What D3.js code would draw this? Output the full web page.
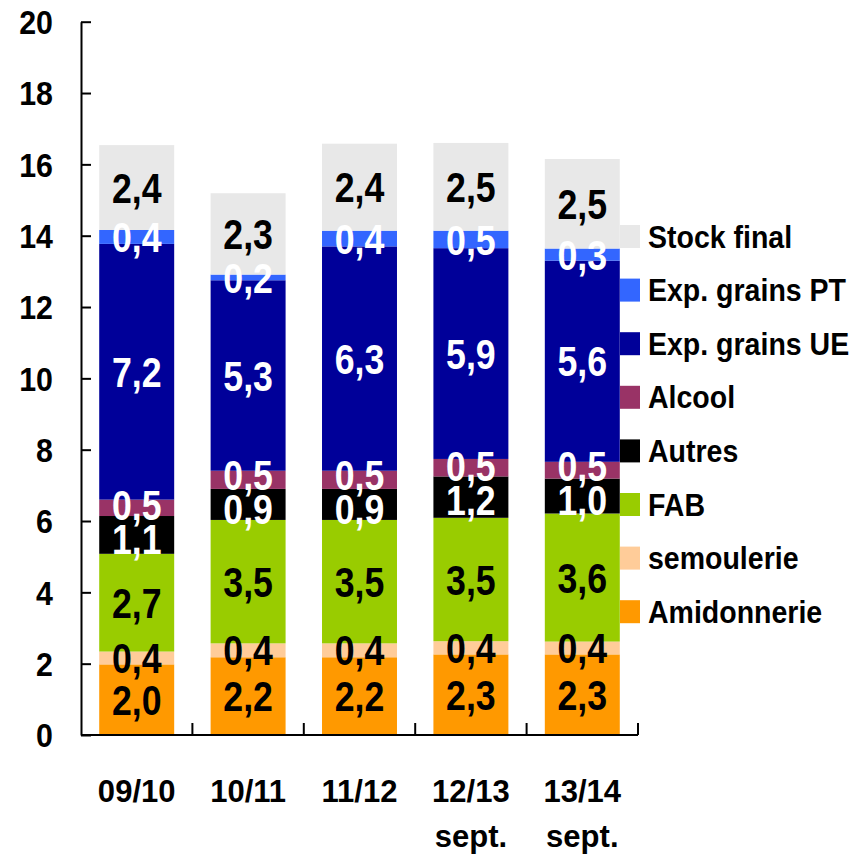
<!DOCTYPE html>
<html>
<head>
<meta charset="utf-8">
<script src="https://cdn.jsdelivr.net/npm/d3@7"></script>
<style>
  html, body { margin: 0; padding: 0; background: #fff; }
  svg text { font-family: "Liberation Sans", Arial, sans-serif; font-weight: bold; }
</style>
</head>
<body>
<svg id="chart" width="865" height="861"></svg>
<script>
// ---- data ----
const categories = ["09/10", "10/11", "11/12", "12/13", "13/14"];
const categorySubLabels = ["", "", "", "sept.", "sept."];
const yTicks = [0, 2, 4, 6, 8, 10, 12, 14, 16, 18, 20];

const seriesNames = ["Amidonnerie", "semoulerie", "FAB", "Autres", "Alcool",
                     "Exp. grains UE", "Exp. grains PT", "Stock final"];
const amidonnerie  = [1.98, 2.18, 2.18, 2.26, 2.26];
const semoulerie   = [0.36, 0.39, 0.39, 0.37, 0.36];
const fab          = [2.74, 3.46, 3.46, 3.46, 3.59];
const autres       = [1.06, 0.87, 0.87, 1.16, 0.98];
const alcool       = [0.46, 0.51, 0.51, 0.49, 0.47];
const expGrainsUE  = [7.17, 5.34, 6.29, 5.91, 5.64];
const expGrainsPT  = [0.39, 0.16, 0.44, 0.49, 0.34];
const stockFinal   = [2.38, 2.28, 2.44, 2.46, 2.51];

const seriesColors = ["#FF9900", "#FFCC99", "#99CC00", "#000000", "#993366",
                      "#000099", "#3366FF", "#E8E8E8"];
const labelColors  = ["#000", "#000", "#000", "#fff", "#fff", "#fff", "#fff", "#000"];

// ---- build table ----
const seriesValues = [amidonnerie, semoulerie, fab, autres, alcool, expGrainsUE, expGrainsPT, stockFinal];
const table = categories.map((c, i) => {
  const row = { cat: c };
  seriesNames.forEach((s, j) => row[s] = seriesValues[j][i]);
  return row;
});
const stacked = d3.stack().keys(seriesNames)(table);

// ---- layout ----
const svg = d3.select("#chart");
const xLeft = 81, xRight = 638, yBottom = 735, yTop = 21.7;
const SX = 0.85; // horizontal text compression for value labels

const x = d3.scaleBand().domain(categories).range([xLeft, xRight])
  .paddingInner(0.327).paddingOuter(0.1635);
const y = d3.scaleLinear().domain([0, 20]).range([yBottom, yTop]);

const fmt = v => (Math.round(v * 10) / 10).toFixed(1).replace(".", ",");

// bars
const layers = svg.append("g").selectAll("g").data(stacked).join("g")
  .attr("fill", (d, i) => seriesColors[i]);
layers.selectAll("rect").data(d => d).join("rect")
  .attr("x", d => x(d.data.cat))
  .attr("width", x.bandwidth())
  .attr("y", d => y(d[1]))
  .attr("height", d => y(d[0]) - y(d[1]));

// value label positions: segment centres, pushed apart when too close
const MIN_GAP = 34;
const labelItems = [];
categories.forEach((c, ci) => {
  const items = stacked.map((layer, si) => {
    const d = layer[ci];
    return { cat: c, si, value: d[1] - d[0], cy: (y(d[0]) + y(d[1])) / 2 };
  });
  for (let iter = 0; iter < 20; iter++) {
    for (let k = 0; k < items.length - 1; k++) {
      const lo = items[k], hi = items[k + 1];
      const gap = lo.cy - hi.cy;
      if (gap < MIN_GAP) {
        const shift = (MIN_GAP - gap) / 2;
        lo.cy += shift; hi.cy -= shift;
      }
    }
  }
  labelItems.push(...items);
});

svg.append("g").selectAll("text").data(labelItems).join("text")
  .attr("transform", d => `translate(${x(d.cat) + x.bandwidth() / 2},${d.cy}) scale(${SX},1)`)
  .attr("text-anchor", "middle")
  .attr("dy", "0.36em")
  .attr("fill", d => labelColors[d.si])
  .style("font-size", "42px")
  .text(d => fmt(d.value));

// y axis
const yAxis = d3.axisLeft(y).tickValues(yTicks).tickSizeInner(-10).tickSizeOuter(0).tickPadding(0)
  .tickFormat(d3.format("d"));
const gy = svg.append("g").attr("transform", `translate(${xLeft},0)`).call(yAxis);
gy.select(".domain").attr("stroke", "#000").attr("stroke-width", 2);
gy.selectAll(".tick line").attr("stroke", "#000").attr("stroke-width", 2);
gy.selectAll(".tick text")
  .attr("x", null)
  .attr("transform", `translate(-28,0) scale(0.92,1)`)
  .attr("dy", "0.36em")
  .attr("fill", "#000")
  .style("font-size", "33px")
  .attr("font-family", null);

// x axis
const xAxis = d3.axisBottom(x).tickSize(0).tickPadding(0);
const gx = svg.append("g").attr("transform", `translate(0,${yBottom})`).call(xAxis);
gx.select(".domain").attr("stroke", "#000").attr("stroke-width", 2)
  .attr("d", `M${xLeft},0H${xRight}`);
gx.selectAll(".tick text").remove();
// boundary ticks (pointing up)
const step = x.step();
const boundaries = categories.map(c => x(c) - step * x.paddingInner() / 2 + step);
gx.selectAll(".bound").data(boundaries).join("line")
  .attr("class", "bound")
  .attr("x1", d => d).attr("x2", d => d)
  .attr("y1", 0).attr("y2", -12)
  .attr("stroke", "#000").attr("stroke-width", 2);
// category labels
const catLabels = svg.append("g").selectAll("text").data(categories).join("text")
  .attr("transform", d => `translate(${x(d) + x.bandwidth() / 2},802) scale(0.97,1)`)
  .attr("text-anchor", "middle")
  .attr("fill", "#000")
  .style("font-size", "32px");
catLabels.append("tspan").attr("x", 0).attr("y", 0).text(d => d);
catLabels.append("tspan").attr("x", 0).attr("y", 45)
  .text((d, i) => categorySubLabels[i]);

// legend (top to bottom: reverse of stack order)
const legendOrder = seriesNames.map((s, i) => i).reverse();
const legend = svg.append("g").selectAll("g").data(legendOrder).join("g")
  .attr("transform", (d, k) => `translate(620,${236.5 + k * 53.6})`);
legend.append("rect")
  .attr("x", 0).attr("y", -11.5).attr("width", 20).attr("height", 23)
  .attr("fill", d => seriesColors[d]);
legend.append("text")
  .attr("transform", `translate(28,0) scale(0.92,1)`)
  .attr("dy", "0.36em")
  .attr("fill", "#000")
  .style("font-size", "31px")
  .text(d => seriesNames[d]);
</script>
</body>
</html>
